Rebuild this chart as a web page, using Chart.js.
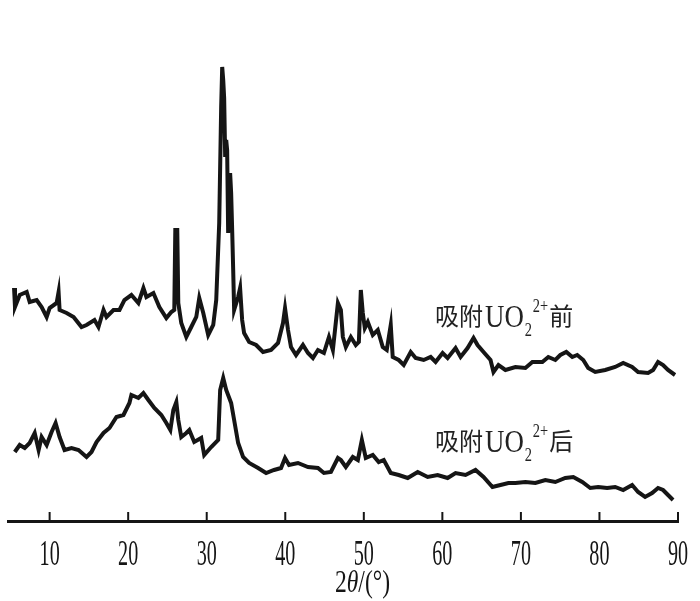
<!DOCTYPE html>
<html>
<head>
<meta charset="utf-8">
<script src="https://cdn.jsdelivr.net/npm/chart.js@4/dist/chart.umd.min.js"></script>
<style>
  html, body { margin: 0; padding: 0; background: #fff; }
  #wrap { width: 700px; height: 601px; }
</style>
</head>
<body>
<div id="wrap"><canvas id="xrd" width="700" height="601"></canvas></div>
<script>
// 2θ (°) and intensity (a.u.)
const thetaBefore = [5.47, 5.59, 6.19, 7.08, 7.46, 8.35, 8.98, 9.62, 10.0, 10.89, 11.14, 11.27, 12.16, 13.05, 14.06, 14.70, 15.71, 16.22, 16.86, 17.24,
  18.13, 18.89, 19.52, 20.41, 21.30, 21.94, 22.32, 23.21, 23.97, 24.86, 25.49, 25.87, 26.00, 26.25, 26.38, 26.76, 27.40, 28.03, 28.67, 29.05,
  29.56, 30.19, 30.83, 31.21, 31.59, 31.84, 31.97, 32.10, 32.22, 32.35, 32.48, 32.60, 32.73, 32.86, 32.98, 33.11, 33.24, 33.37, 33.49, 34.00,
  34.25, 34.51, 34.76, 35.40, 36.29, 37.17, 38.19, 39.08, 39.71, 39.97, 40.35, 40.73, 41.37, 42.25, 42.89, 43.52, 44.16, 44.92, 45.56, 46.06,
  46.70, 47.08, 47.33, 47.71, 48.35, 48.98, 49.37, 49.62, 49.87, 50.13, 50.51, 51.14, 51.78, 52.41, 52.92, 53.43, 53.68, 54.44, 55.08, 55.97,
  56.60, 57.62, 58.51, 59.14, 60.03, 60.67, 61.68, 62.32, 63.21, 63.97, 64.48, 65.24, 66.13, 66.51, 67.14, 68.03, 69.30, 70.57, 71.46, 72.73,
  73.49, 74.38, 75.02, 75.78, 76.54, 77.17, 77.94, 78.57, 79.46, 80.73, 82.00, 83.02, 84.16, 84.92, 86.19, 86.83, 87.46, 88.10, 88.73, 89.62];
const intensityBefore = [233, 214, 226, 229, 219, 221, 214, 204, 213, 218, 229, 211, 208, 204, 194, 196, 201, 194, 211, 204,
  211, 211, 221, 226, 218, 233, 224, 228, 214, 203, 209, 211, 291, 291, 218, 198, 184, 194, 204, 223,
  208, 186, 196, 221, 298, 414, 454, 441, 423, 364, 381, 371, 288, 321, 348, 328, 291, 251, 211, 224,
  233, 201, 188, 179, 176, 169, 171, 178, 198, 213, 191, 174, 166, 176, 168, 163, 171, 168, 184, 171,
  218, 211, 184, 174, 184, 176, 179, 231, 208, 193, 199, 186, 191, 174, 171, 196, 164, 161, 156, 169,
  163, 161, 164, 159, 168, 163, 173, 164, 173, 183, 176, 169, 161, 149, 156, 151, 154, 153, 159, 159,
  164, 161, 166, 169, 164, 166, 161, 153, 149, 151, 154, 158, 154, 149, 148, 151, 159, 156, 151, 146];

const thetaAfter = [5.56, 6.19, 6.83, 7.46, 8.10, 8.60, 8.98, 9.62, 10.25, 10.76, 11.27, 11.90, 12.79, 13.68, 14.70, 15.33, 15.97, 16.86, 17.62, 18.51,
  19.40, 20.16, 20.41, 21.30, 21.94, 22.57, 23.33, 24.22, 24.86, 25.37, 25.75, 26.13, 26.38, 26.76, 27.40, 27.78, 28.41, 29.30, 29.68, 30.57,
  31.46, 31.71, 32.10, 32.48, 33.11, 33.49, 34.00, 34.63, 35.40, 36.54, 37.56, 38.57, 39.46, 39.97, 40.48, 41.62, 42.89, 44.16, 44.92, 45.81,
  46.70, 47.08, 47.71, 48.60, 49.24, 49.75, 50.25, 51.14, 51.90, 52.54, 53.43, 54.44, 55.59, 56.86, 58.13, 59.40, 60.67, 61.68, 62.95, 64.22,
  65.24, 66.38, 67.40, 68.41, 69.30, 70.57, 71.84, 73.11, 74.38, 75.65, 76.67, 77.81, 78.83, 79.84, 80.98, 82.00, 83.02, 84.16, 84.92, 85.81,
  86.70, 87.46, 88.10, 88.73, 89.37];
const intensityAfter = [69, 76, 73, 78, 88, 71, 84, 76, 89, 98, 84, 71, 73, 71, 64, 69, 79, 88, 93, 104,
  106, 118, 126, 123, 128, 121, 113, 106, 98, 91, 111, 119, 101, 84, 88, 91, 79, 83, 66, 74,
  81, 131, 143, 131, 118, 101, 78, 64, 58, 53, 48, 51, 53, 63, 56, 58, 54, 53, 48, 49,
  63, 61, 54, 64, 61, 81, 63, 66, 59, 61, 48, 46, 43, 49, 44, 46, 43, 48, 46, 51,
  44, 34, 36, 38, 38, 39, 38, 41, 39, 43, 44, 39, 33, 34, 33, 34, 31, 36, 29, 24,
  28, 33, 31, 26, 21];

const xTicks = [10, 20, 30, 40, 50, 60, 70, 80, 90];
const seriesLabels = ['前', '后'];

const INK = '#151515';

// 글자를 가로로 눌러서 그리기
function drawText(ctx, s, x, y, font, sx, align) {
  ctx.save();
  ctx.font = font;
  ctx.translate(x, y);
  ctx.scale(sx, 1);
  ctx.textAlign = align || 'left';
  ctx.textBaseline = 'alphabetic';
  ctx.fillText(s, 0, 0);
  const w = ctx.measureText(s).width * sx;
  ctx.restore();
  return w;
}

function drawSeriesLabel(ctx, x, base, tail) {
  const cjk = "24px 'Noto Sans CJK SC'";
  const lat = "32px 'Liberation Serif'";
  const sml = "18px 'Liberation Serif'";
  x += drawText(ctx, '吸附', x, base - 2, cjk, 1);
  x += 2;
  x += drawText(ctx, 'UO', x, base, lat, 0.84);
  drawText(ctx, '2', x + 1, base + 9, sml, 0.8);
  x += drawText(ctx, '2+', x + 9, base - 15, sml, 0.8) + 10;
  drawText(ctx, tail, x, base - 2, cjk, 1);
}

const decor = {
  id: 'decor',
  afterDraw(chart) {
    const ctx = chart.ctx;
    const xs = chart.scales.x;
    const bottom = chart.chartArea.bottom;
    ctx.save();
    ctx.fillStyle = INK;
    ctx.strokeStyle = INK;
    ctx.lineWidth = 2;
    xTicks.forEach(v => {
      const px = xs.getPixelForValue(v);
      ctx.beginPath();
      ctx.moveTo(px, bottom - 9);
      ctx.lineTo(px, bottom);
      ctx.stroke();
      drawText(ctx, String(v), px, bottom + 44, "36px 'Liberation Serif'", 0.56, 'center');
    });
    // 축 제목 2θ/(°)
    const f = "31px 'Liberation Serif'";
    const fi = "italic 31px 'Liberation Serif'";
    let x = 335;
    const y = 592;
    x += drawText(ctx, '2', x, y, f, 0.76);
    x += drawText(ctx, 'θ', x, y, fi, 0.76);
    x += drawText(ctx, '/(°)', x, y, f, 0.76);
    // 곡선 이름
    ctx.fillStyle = '#222';
    drawSeriesLabel(ctx, 435, 327, seriesLabels[0]);
    drawSeriesLabel(ctx, 435, 452, seriesLabels[1]);
    ctx.restore();
  }
};

const toPts = (xs, ys) => xs.map((x, i) => ({ x, y: ys[i] }));

new Chart(document.getElementById('xrd'), {
  type: 'line',
  data: {
    datasets: [
      {
        label: seriesLabels[0],
        data: toPts(thetaBefore, intensityBefore),
        borderColor: INK, borderWidth: 4, pointRadius: 0, tension: 0, borderJoinStyle: 'miter',
      },
      {
        label: seriesLabels[1],
        data: toPts(thetaAfter, intensityAfter),
        borderColor: INK, borderWidth: 4, pointRadius: 0, tension: 0, borderJoinStyle: 'miter',
      }
    ]
  },
  options: {
    responsive: false,
    animation: false,
    layout: { padding: { left: 8, right: 22, top: 20, bottom: 80 } },
    plugins: { legend: { display: false }, tooltip: { enabled: false } },
    scales: {
      x: {
        type: 'linear', min: 4.7, max: 90,
        grid: { display: false, drawTicks: false },
        border: { display: true, color: INK, width: 3 },
        ticks: { display: false },
        afterFit: s => { s.height = 0; }
      },
      y: {
        display: false, min: 0, max: 501,
        afterFit: s => { s.width = 0; }
      }
    }
  },
  plugins: [decor]
});
</script>
</body>
</html>
